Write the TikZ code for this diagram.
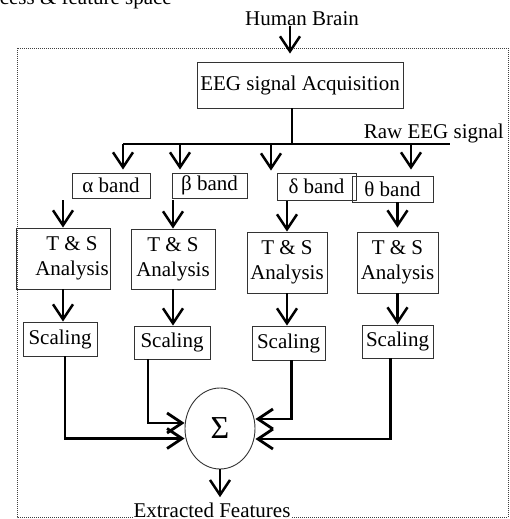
\documentclass[tikz,border=0pt]{standalone}
\usepackage{fontspec}
\setmainfont{Liberation Serif}
\usetikzlibrary{
  positioning,
  arrows.meta,
  shapes.geometric,
  calc
}

\begin{document}
\begin{tikzpicture}[
  x=1pt, y=-1pt,
  font=\fontsize{21}{25}\selectfont,
  stage/.style={
    rectangle,
    draw=black!80,
    line width=0.9pt,
    inner sep=1.5pt,
    align=center
  },
  band/.style={
    stage,
    minimum height=25pt
  },
  analysis/.style={
    stage,
    minimum height=61pt
  },
  scaler/.style={
    stage,
    minimum height=34pt
  },
  summer/.style={
    ellipse,
    draw=black!80,
    line width=0.9pt,
    inner sep=0pt,
    minimum width=70pt,
    minimum height=81pt,
    font=\fontsize{32}{36}\selectfont
  },
  label/.style={
    inner sep=0pt
  },
  frame/.style={
    draw=black!75,
    line width=0.8pt,
    dash pattern=on 1pt off 1pt
  },
  bus/.style={
    draw=black,
    line width=1.6pt
  },
  arrow/.style={
    -{Straight Barb[length=15pt,width=20pt]},
    line width=2.5pt
  },
  feed/.style={
    arrow,
    line width=2.8pt
  }
]

\useasboundingbox (0,0) rectangle (509,519);

% Caption & frame
\node[label, anchor=base east] (caption) at (172,5) {cess \& feature space};
\draw[frame] (17,48) rectangle (508,517);

% Acquisition
\node[label, anchor=base] (brain) at (302,26) {Human Brain};
\node[stage, minimum width=206pt, minimum height=46pt] (eeg) at (300,85) {EEG signal Acquisition};
\node[label, anchor=base east] (raw) at (504,138) {Raw EEG signal};

% Signal bus
\coordinate (split) at (292,144);
\coordinate (b1) at (123,144);
\coordinate (b2) at (180,144);
\coordinate (b3) at (271,144);
\coordinate (b4) at (411,144);
\coordinate (bend) at (450,144);

% Bands
\node[band, minimum width=78pt] (alpha) at (111,185.5) {α band};
\node[band, minimum width=75pt] (beta) at (209.5,185.5) {β band};
\node[band, minimum width=79pt, minimum height=27pt] (delta) at (316.5,186.5) {δ band};
\node[band, minimum width=81pt, minimum height=26pt] (theta) at (392.5,189) {θ band};

% T & S analysis
\node[analysis, minimum width=94pt, inner xsep=0pt] (ts1) at (63,258.5) {\hspace*{18pt}T \& S\\\hspace*{18pt}Analysis};
\node[analysis, minimum width=84pt, minimum height=60pt] (ts2) at (173,259) {T \& S\\Analysis};
\node[analysis, minimum width=80pt] (ts3) at (287,262.5) {T \& S\\Analysis};
\node[analysis, minimum width=81pt] (ts4) at (397.5,262.5) {T \& S\\Analysis};

% Scaling
\node[scaler, minimum width=74pt] (sc1) at (60,339) {Scaling};
\node[scaler, minimum width=76pt, minimum height=33pt] (sc2) at (172,342.5) {Scaling};
\node[scaler, minimum width=73pt] (sc3) at (288.5,343) {Scaling};
\node[scaler, minimum width=71pt, minimum height=33pt] (sc4) at (397.5,341.5) {Scaling};

% Summation & output
\node[summer] (sigma) at (220,428.5) {Σ};
\node[label, anchor=base, fill=white, inner xsep=1pt, inner ysep=2pt] (feat) at (212,517) {Extracted Features};

% Transitions
\draw[arrow, shorten >=8pt] ([xshift=-12pt]brain.south) -- ([xshift=-12pt]brain.south |- eeg.north);
\draw[bus] (eeg.south -| split) -- (split);
\draw[bus] (b1) -- (bend);

\draw[arrow, shorten >=3pt] (b1) -- (b1 |- alpha.north);
\draw[arrow, shorten >=3pt] (b2) -- (b2 |- beta.north);
\draw[arrow, shorten >=2pt] (b3) -- (b3 |- delta.north);
\draw[arrow, shorten >=6pt] (b4) -- (b4 |- theta.north);

\draw[arrow] ([yshift=-2pt]alpha.south -| ts1.north) -- (ts1.north);
\draw[arrow] ([yshift=-2pt]beta.south -| ts2.north) -- (ts2.north);
\draw[arrow] ([yshift=-1pt]delta.south -| ts3.north) -- (ts3.north);
\draw[arrow, shorten >=4pt] (theta.south -| ts4.north) -- (ts4.north);

\draw[arrow] (ts1.south) -- (ts1.south |- sc1.north);
\draw[arrow] (ts2.south) -- (ts2.south |- sc2.north);
\draw[arrow] (ts3.south) -- (ts3.south |- sc3.north);
\draw[arrow] (ts4.south) -- (ts4.south |- sc4.north);

\draw[feed] ([xshift=5pt]sc1.south) |- ([yshift=-10pt]sigma.west);
\draw[feed] ([xshift=-24pt]sc2.south) |- ([yshift=5.5pt]sigma.west);
\draw[feed] ([xshift=3pt]sc3.south) |- ([yshift=9.5pt]sigma.east);
\draw[feed] ([xshift=-7pt]sc4.south) |- ([yshift=-10.5pt]sigma.east);

\draw[arrow] (sigma.south) -- ([yshift=3pt]sigma.south |- feat.north);

\end{tikzpicture}
\end{document}
